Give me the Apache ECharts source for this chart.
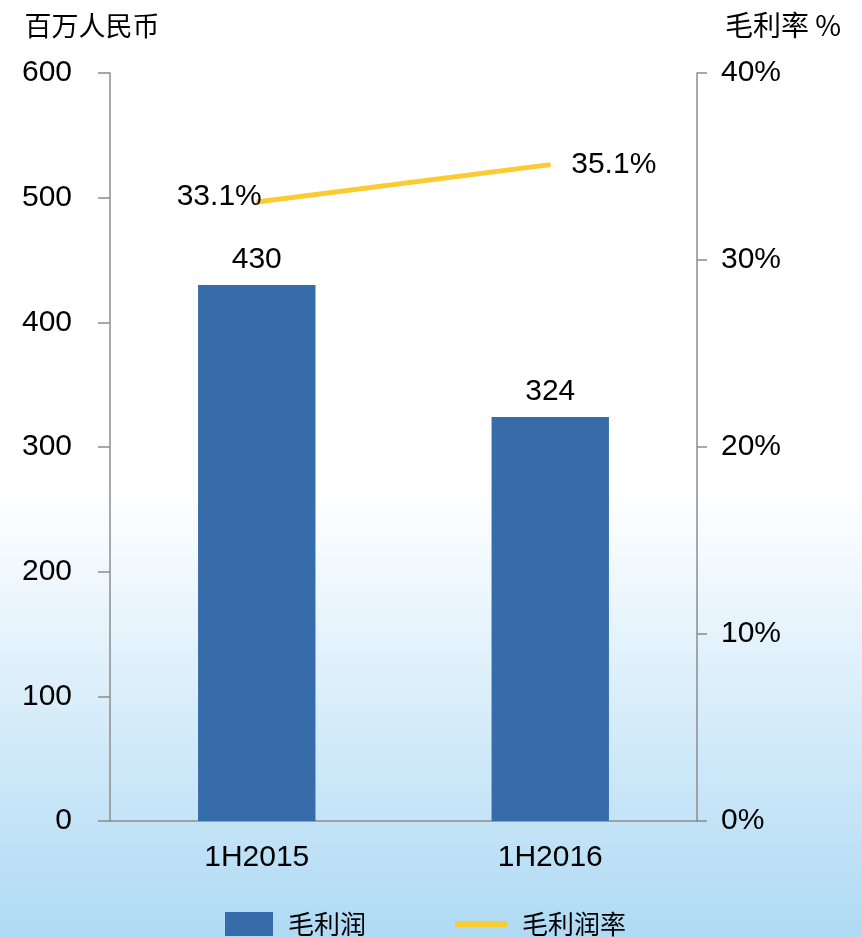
<!DOCTYPE html>
<html>
<head>
<meta charset="utf-8">
<script src="https://cdn.jsdelivr.net/npm/echarts@6/dist/echarts.min.js"></script>
<style>
  html, body { margin: 0; padding: 0; }
  #chart { width: 862px; height: 937px; }
</style>
</head>
<body>
<div id="chart"></div>
<script>
// 类别与数据
const categories = ["1H2015", "1H2016"];
const grossProfit = [430, 324];      // 毛利润（百万人民币）
const grossMargin = [33.1, 35.1];    // 毛利润率（%）
const leftTicks = { min: 0, max: 600, interval: 100 };
const rightTicks = { min: 0, max: 40, interval: 10 };

const numFont = "Liberation Sans, Arial, sans-serif";
const cjkFont = "Noto Sans CJK SC, sans-serif";
const axisColor = "#8c8c8c";

const chart = echarts.init(document.getElementById("chart"));

// 折线标签：第一个点放左边，第二个放右边
const marginLabelStyle = [
  { position: "left", distance: -6, offset: [0, -5] },
  { position: "right", distance: 20, offset: [0, 0] },
];

const option = {
  backgroundColor: new echarts.graphic.LinearGradient(0, 0, 0, 1, [
    { offset: 0, color: "#ffffff" },
    { offset: 0.52, color: "#ffffff" },
    { offset: 1, color: "#afdaf4" },
  ]),
  animation: false,
  grid: { left: 110, right: 165, top: 73, bottom: 116 },
  legend: [
    {
      data: ["毛利润"],
      left: 220,
      top: 906,
      itemWidth: 48,
      itemHeight: 24,
      icon: "rect",
      textStyle: { fontFamily: cjkFont, fontSize: 26, color: "#000", padding: [0, 0, 0, 10] },
    },
    {
      data: ["毛利润率"],
      left: 450,
      top: 906,
      itemWidth: 52,
      itemHeight: 6,
      icon: "rect",
      textStyle: { fontFamily: cjkFont, fontSize: 26, color: "#000", padding: [0, 0, 0, 10] },
    },
  ],
  xAxis: {
    type: "category",
    data: categories,
    axisLine: { lineStyle: { color: axisColor, width: 1.5 } },
    axisTick: { length: 8, lineStyle: { color: axisColor, width: 1.5 } },
    axisLabel: { fontFamily: numFont, fontSize: 30, color: "#000", margin: 22 },
  },
  yAxis: [
    {
      type: "value",
      min: leftTicks.min,
      max: leftTicks.max,
      interval: leftTicks.interval,
      name: "百万人民币",
      nameLocation: "end",
      nameGap: 34,
      nameTextStyle: { fontFamily: cjkFont, fontSize: 27, color: "#000", align: "center", padding: [0, 36, 0, 0] },
      axisLine: { show: true, lineStyle: { color: axisColor, width: 1.5 } },
      axisTick: { show: true, length: 12, lineStyle: { color: axisColor, width: 1.5 } },
      axisLabel: { fontFamily: numFont, fontSize: 30, color: "#000", margin: 38 },
      splitLine: { show: false },
    },
    {
      type: "value",
      min: rightTicks.min,
      max: rightTicks.max,
      interval: rightTicks.interval,
      name: "毛利率 %",
      nameLocation: "end",
      nameGap: 34,
      nameTextStyle: { fontFamily: cjkFont, fontSize: 28, color: "#000", align: "left", padding: [0, 0, 0, 28] },
      axisLine: { show: true, lineStyle: { color: axisColor, width: 1.5 } },
      axisTick: { show: true, length: 10, lineStyle: { color: axisColor, width: 1.5 } },
      axisLabel: { fontFamily: numFont, fontSize: 30, color: "#000", margin: 24, formatter: "{value}%" },
      splitLine: { show: false },
    },
  ],
  series: [
    {
      name: "毛利润",
      type: "bar",
      barWidth: "40%",
      data: grossProfit,
      itemStyle: { color: "#376cab" },
      label: {
        show: true,
        position: "top",
        distance: 10,
        fontFamily: numFont,
        fontSize: 30,
        color: "#000",
      },
    },
    {
      name: "毛利润率",
      type: "line",
      yAxisIndex: 1,
      data: grossMargin.map((v, i) => ({ value: v, label: marginLabelStyle[i] })),
      symbol: "circle",
      symbolSize: 2,
      itemStyle: { color: "#fbcb32" },
      lineStyle: { color: "#fbcb32", width: 5 },
      label: {
        show: true,
        formatter: (p) => p.value.toFixed(1) + "%",
        fontFamily: numFont,
        fontSize: 30,
        color: "#000",
      },
    },
  ],
};

chart.setOption(option);
</script>
</body>
</html>
